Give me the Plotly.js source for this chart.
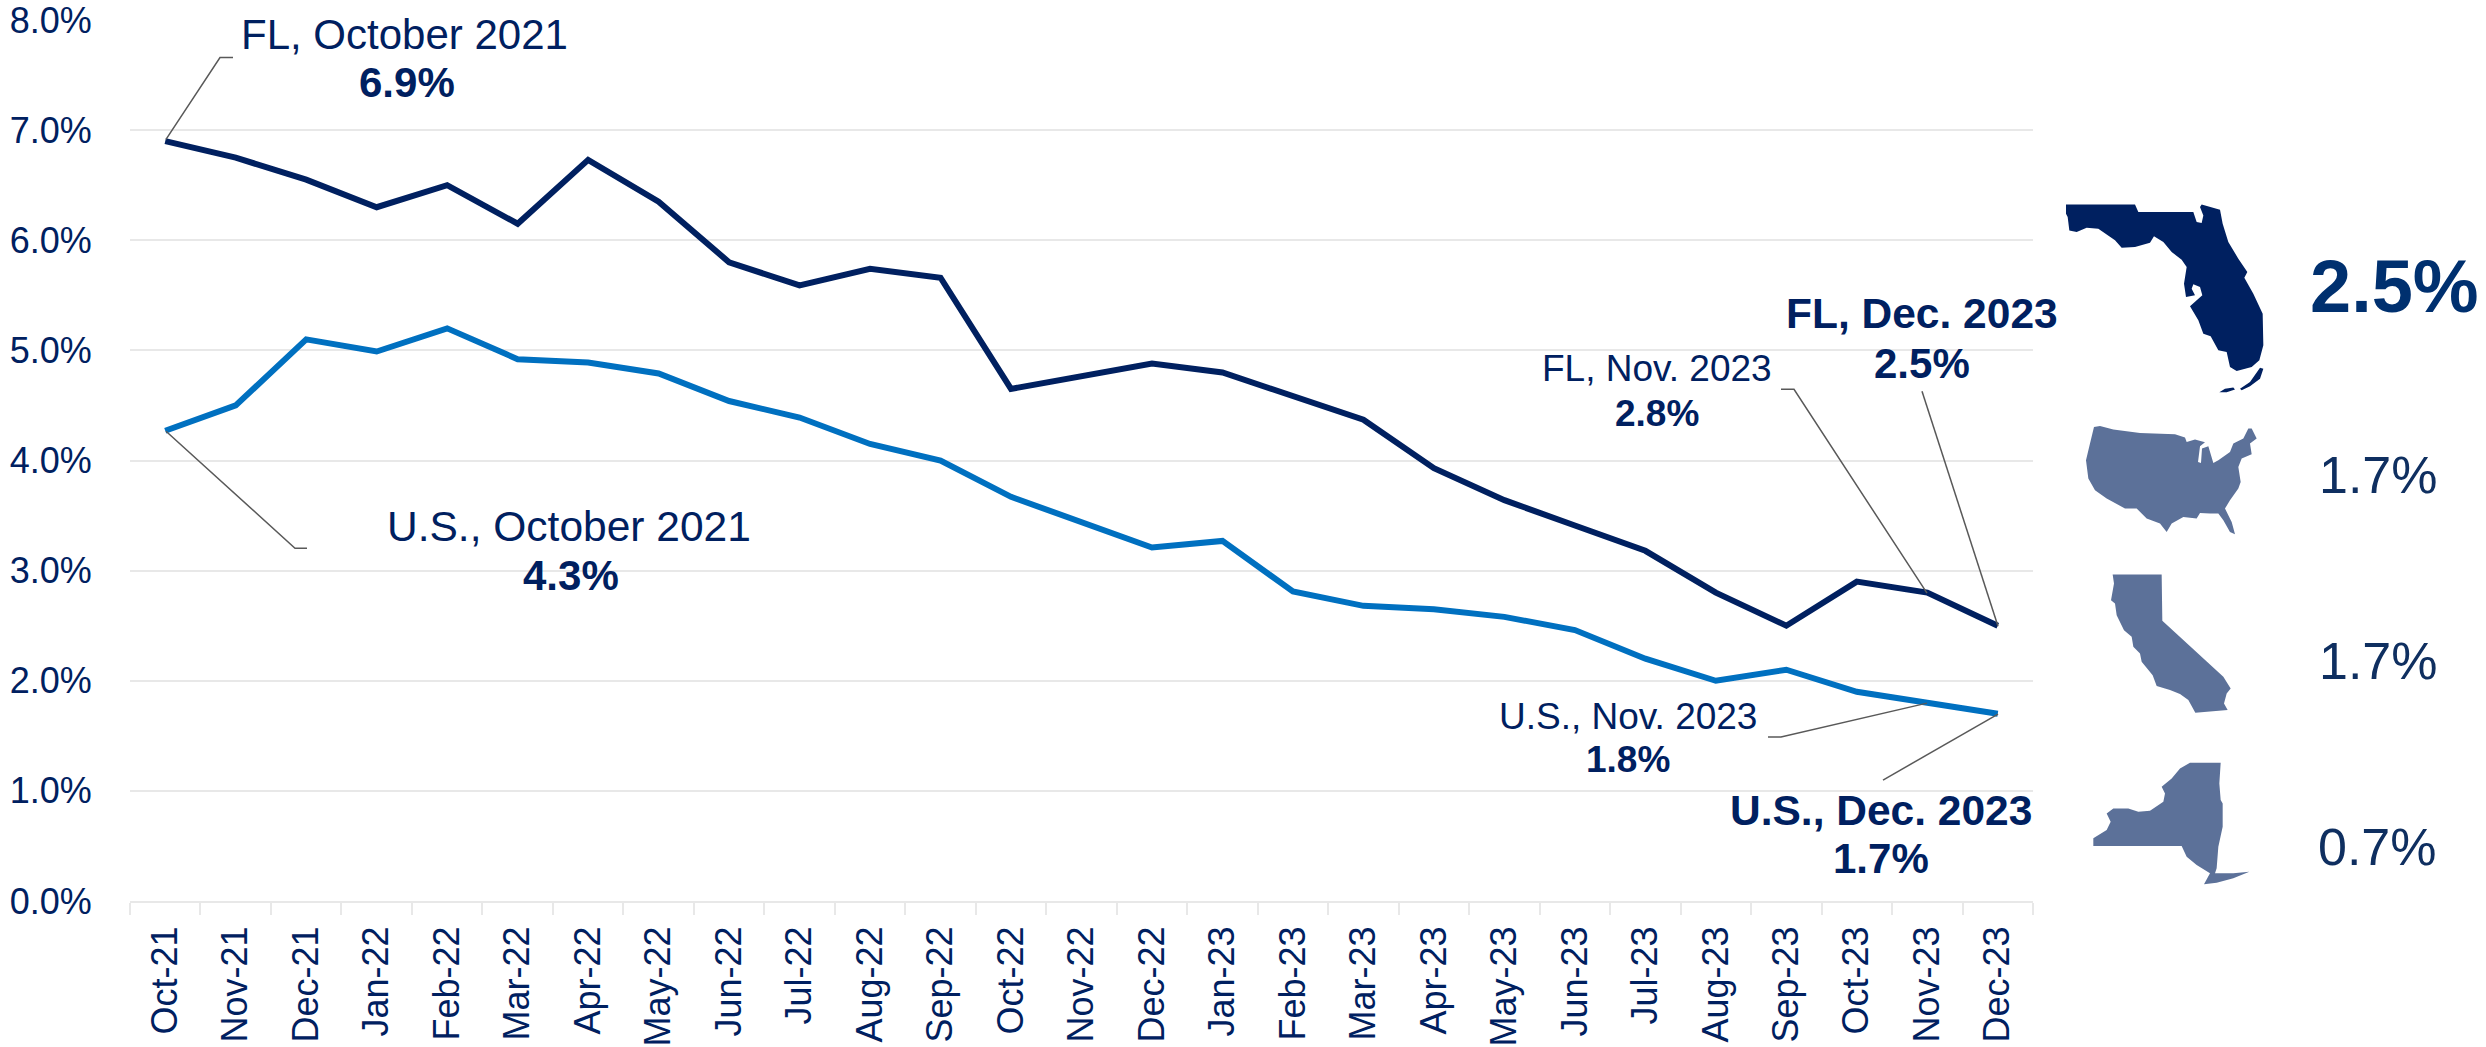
<!DOCTYPE html>
<html>
<head>
<meta charset="utf-8">
<script src="https://cdn.plot.ly/plotly-3.0.1.min.js"></script>
<style>html,body{margin:0;padding:0;background:#fff;overflow:hidden}#chart{width:2486px;height:1047px}</style>
</head>
<body>
<div id="chart"></div>
<script>
const months = ["Oct-21","Nov-21","Dec-21","Jan-22","Feb-22","Mar-22","Apr-22","May-22","Jun-22","Jul-22","Aug-22","Sep-22","Oct-22","Nov-22","Dec-22","Jan-23","Feb-23","Mar-23","Apr-23","May-23","Jun-23","Jul-23","Aug-23","Sep-23","Oct-23","Nov-23","Dec-23"];
const flRate = [6.9,6.75,6.55,6.3,6.5,6.15,6.73,6.35,5.8,5.59,5.74,5.66,4.65,4.76,4.88,4.8,4.58,4.37,3.93,3.64,3.41,3.18,2.8,2.5,2.9,2.8,2.5];
const usRate = [4.27,4.5,5.1,4.99,5.2,4.92,4.89,4.79,4.54,4.39,4.15,4.0,3.67,3.44,3.21,3.27,2.81,2.68,2.65,2.58,2.46,2.2,2.0,2.1,1.9,1.8,1.7];
const yTicks = [0,1,2,3,4,5,6,7,8];

const NAVY = "#002060", BLUE = "#0070C0", GRID = "#E8E8E8", LEADER = "#595959", STATE = "#5C7199";
const L = 130, R = 2033, T = 19.5, B = 901;
const px = x => (x - L) / (R - L);
const py = y => (B - y) / (B - T);

// [text, centre x, centre y, font size, bold, colour]
const labels = [
  ["FL, October 2021",404,34,42,false,NAVY],
  ["6.9%",407,82,42,true,NAVY],
  ["U.S., October 2021",569,526,42.5,false,NAVY],
  ["4.3%",571,575,42,true,NAVY],
  ["FL, Nov. 2023",1657,368,37,false,NAVY],
  ["2.8%",1657,413,37,true,NAVY],
  ["FL, Dec. 2023",1922,313,42.5,true,NAVY],
  ["2.5%",1922,363,42,true,NAVY],
  ["U.S., Nov. 2023",1628,716,37,false,NAVY],
  ["1.8%",1628,759,37,true,NAVY],
  ["U.S., Dec. 2023",1881,810,42.5,true,NAVY],
  ["1.7%",1881,858,42,true,NAVY],
  ["2.5%",2394,286,74,true,"#00306F"],
  ["1.7%",2378,475,52,false,"#0F2F60"],
  ["1.7%",2378,661,52,false,"#0F2F60"],
  ["0.7%",2377,847,52,false,"#0F2F60"]
];

const leaders = [
  [[166,139],[220,57],[233,57]],
  [[166,431],[295,548],[307,548]],
  [[1781,389],[1794,389],[1927,593]],
  [[1922,391],[1998,626]],
  [[1768,737],[1781,737],[1927,703]],
  [[1883,780],[1998,714]]
];

const florida = [[198,72,405,72,415,95,580,95,590,125,605,128,610,105,600,80,605,72,660,88,668,130,685,185,715,235,742,275,733,292,760,340,788,400,790,495,778,540,755,560,710,572,690,560,680,515,655,510,632,468,610,460,595,420,570,378,607,345,600,320,580,312,575,325,585,345,558,350,552,310,560,260,545,238,515,215,490,185,462,168,450,187,405,200,365,202,345,180,295,145,260,142,230,155,208,150,203,110,198,100],
 [658,636,675,625,700,622,705,628,680,636],[720,625,750,605,780,562,790,565,780,595,750,618,725,630]];
const usa = [[282,740,300,737,340,748,420,758,525,762,555,772,560,785,585,778,615,786,600,798,594,845,603,848,606,805,625,798,640,848,655,840,690,815,700,790,730,775,745,745,755,745,770,775,750,790,755,822,725,835,715,860,722,905,715,925,690,960,675,985,695,1025,705,1062,690,1055,670,1020,655,1000,630,1000,600,998,590,1015,550,1010,515,1030,500,1055,480,1030,440,1015,410,985,375,985,320,955,285,930,265,895,258,840,270,790]];
const california = [[338,103,485,103,487,242,670,410,692,445,680,460,672,490,683,510,586,518,565,480,540,462,510,450,470,438,458,405,425,365,420,340,400,320,395,290,372,270,350,225,345,190,333,180,342,130]];
const newYork = [[570,668,662,668,658,730,662,780,668,790,668,860,655,920,650,985,645,1000,700,1000,748,995,700,1015,650,1028,612,1033,630,1000,590,975,560,950,545,918,280,918,280,895,320,870,332,845,320,820,340,805,385,805,415,815,450,812,490,785,495,760,485,740,515,715,540,685]];

function statePath(rings, ox, oy) {
  return rings.map(r => {
    let s = "";
    for (let i = 0; i < r.length; i += 2) {
      s += (i ? "L" : "M") + px(ox + r[i] / 3).toFixed(5) + " " + py(oy + r[i + 1] / 3).toFixed(5);
    }
    return s + "Z";
  }).join(" ");
}

const shapes = [];
leaders.forEach(p => shapes.push({
  type: "path", xref: "paper", yref: "paper",
  path: p.map((q, i) => (i ? "L" : "M") + px(q[0]).toFixed(5) + " " + py(q[1]).toFixed(5)).join(" "),
  line: {color: LEADER, width: 1.5}, fillcolor: "rgba(0,0,0,0)"
}));
[[florida,2000,180,NAVY],[usa,2000,180,STATE],[california,2000,540,STATE],[newYork,2000,540,STATE]].forEach(s => shapes.push({
  type: "path", xref: "paper", yref: "paper", path: statePath(s[0], s[1], s[2]),
  fillcolor: s[3], line: {width: 0}
}));

const annotations = labels.map(a => ({
  xref: "paper", yref: "paper", x: px(a[1]), y: py(a[2]), xanchor: "center", yanchor: "middle",
  text: a[4] ? "<b>" + a[0] + "</b>" : a[0], showarrow: false,
  font: {family: "Liberation Sans, Arial, sans-serif", size: a[3], color: a[5]}
}));

const traces = [
  {x: months, y: usRate, mode: "lines", type: "scatter", line: {color: BLUE, width: 6, shape: "linear"}, hoverinfo: "skip", cliponaxis: false},
  {x: months, y: flRate, mode: "lines", type: "scatter", line: {color: NAVY, width: 6, shape: "linear"}, hoverinfo: "skip", cliponaxis: false}
];

const layout = {
  width: 2486, height: 1047, showlegend: false,
  paper_bgcolor: "#fff", plot_bgcolor: "#fff",
  margin: {l: L, r: 2486 - R, t: T, b: 1047 - B, pad: 0},
  font: {family: "Liberation Sans, Arial, sans-serif", color: NAVY},
  xaxis: {
    type: "category", categoryorder: "array", categoryarray: months, range: [-0.5, 26.5],
    tickmode: "array", tickvals: months, ticktext: months, tickson: "boundaries",
    ticks: "outside", ticklen: 12, tickwidth: 2, tickcolor: GRID,
    showline: true, linecolor: GRID, linewidth: 2, showgrid: false, zeroline: false,
    tickangle: -90, tickfont: {size: 36, color: NAVY}, automargin: false, ticklabelstandoff: 9
  },
  yaxis: {
    range: [0, 8], tickmode: "array", tickvals: yTicks, ticktext: yTicks.map(v => v.toFixed(1) + "%"),
    showgrid: true, gridcolor: GRID, gridwidth: 2, zeroline: false, showline: false,
    ticks: "outside", ticklen: 30, tickcolor: "rgba(0,0,0,0)",
    ticklabeloverflow: "allow",
    tickfont: {size: 36, color: NAVY}, automargin: false
  },
  shapes, annotations
};

Plotly.newPlot("chart", traces, layout, {displayModeBar: false, staticPlot: true});
</script>
</body>
</html>
